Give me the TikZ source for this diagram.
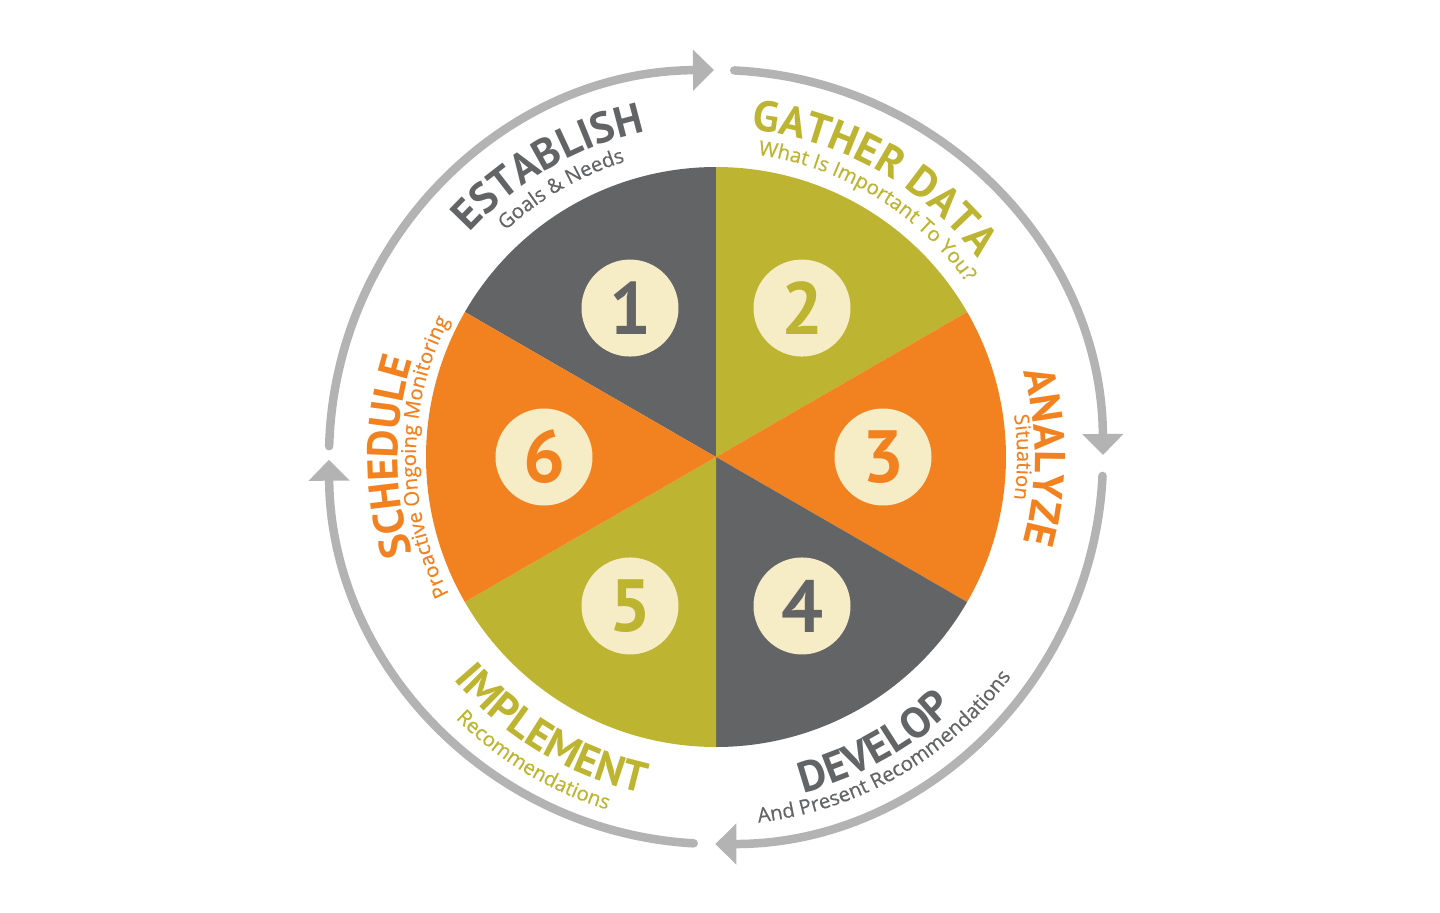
\documentclass[tikz,border=0pt]{standalone}
\usepackage{fontspec}
\setmainfont{PT Sans}
\newfontface\subfam{Open Sans}[FakeBold=0.5]
\usetikzlibrary{decorations.text,arrows.meta}
\definecolor{cgray}{HTML}{636466}
\definecolor{colive}{HTML}{BDB431}
\definecolor{corange}{HTML}{F28220}
\definecolor{ccream}{HTML}{F6EDC7}
\definecolor{carrow}{HTML}{B3B3B3}
\newcommand{\ttlfont}{\bfseries\fontsize{21.5pt}{21.5pt}\selectfont}
\newcommand{\subfont}{\subfam\fontsize{10.2pt}{10.2pt}\selectfont}
\newcommand{\numfont}{\bfseries\fontsize{37pt}{37pt}\selectfont}
\tikzset{
  numcirc/.style={circle, fill=ccream, minimum size=48.5pt, inner sep=0pt, font=\numfont},
  ring/.style={draw=carrow, line width=4.25pt, line cap=round,
    -{Triangle[length=10.5pt,width=20pt]}},
  ttl/.style 2 args={decorate, decoration={text along path, text align=center,
    text color=#1, text={|\ttlfont|#2}}},
  subt/.style 2 args={decorate, decoration={text along path, text align=center,
    text color=#1, text={|\subfont|#2}}}
}
\begin{document}
\begin{tikzpicture}[x=0.5pt,y=0.5pt]
\useasboundingbox (-716,-455) rectangle (724,457);
% sectors
\fill[cgray]   (0,0) -- (90:290)  arc[start angle=90,  end angle=150, radius=290] -- cycle;
\fill[colive]  (0,0) -- (30:290)  arc[start angle=30,  end angle=90,  radius=290] -- cycle;
\fill[corange] (0,0) -- (-30:290) arc[start angle=-30, end angle=30,  radius=290] -- cycle;
\fill[cgray]   (0,0) -- (-90:290) arc[start angle=-90, end angle=-30, radius=290] -- cycle;
\fill[colive]  (0,0) -- (210:290) arc[start angle=210, end angle=270, radius=290] -- cycle;
\fill[corange] (0,0) -- (150:290) arc[start angle=150, end angle=210, radius=290] -- cycle;
% number badges
\node[numcirc, text=cgray]   (n1) at (120:172) {1};
\node[numcirc, text=colive]  (n2) at (60:172)  {2};
\node[numcirc, text=corange] (n3) at (0:167)   {3};
\node[numcirc, text=cgray]   (n4) at (-60:172) {4};
\node[numcirc, text=colive]  (n5) at (240:172) {5};
\node[numcirc, text=corange] (n6) at (180:172) {6};
% outer cycle arrows
\draw[ring] (178.4:387) arc[start angle=178.4, end angle=90.3, radius=387];
\draw[ring] (87.3:387)  arc[start angle=87.3,  end angle=0.3,  radius=387];
\draw[ring] (-2.8:387)  arc[start angle=-2.8,  end angle=-90.1, radius=387];
\draw[ring] (266.7:387) arc[start angle=266.7, end angle=180.4, radius=387];
% labels (top group, clockwise)
\path[ttl={cgray}{ESTABLISH}] (170:333) arc[start angle=170, end angle=70, radius=333];
\path[subt={cgray}{Goals {\&} Needs}] (170:309) arc[start angle=170, end angle=70, radius=309];
\path[ttl={colive}{GATHER DATA}] (110:329) arc[start angle=110, end angle=11, radius=329];
\path[subt={colive}{What Is Important To You?}] (108:305) arc[start angle=108, end angle=9, radius=305];
\path[ttl={corange}{ANALYZE}] (50:319) arc[start angle=50, end angle=-50, radius=319];
\path[subt={corange}{Situation}] (50:301) arc[start angle=50, end angle=-50, radius=301];
\path[ttl={corange}{SCHEDULE}] (230:318) arc[start angle=230, end angle=130, radius=318];
\path[subt={corange}{Proactive Ongoing Monitoring}] (240:300) arc[start angle=240, end angle=120, radius=300];
% labels (bottom group, counter-clockwise)
\path[ttl={cgray}{DEVELOP}] (-111:347) arc[start angle=-111, end angle=-11, radius=347];
\path[subt={cgray}{And Present Recommendations}] (-110:368) arc[start angle=-110, end angle=-10, radius=368];
\path[ttl={colive}{IMPLEMENT}] (189:344) arc[start angle=189, end angle=289, radius=344];
\path[subt={colive}{Recommendations}] (189:369) arc[start angle=189, end angle=289, radius=369];
\end{tikzpicture}
\end{document}
